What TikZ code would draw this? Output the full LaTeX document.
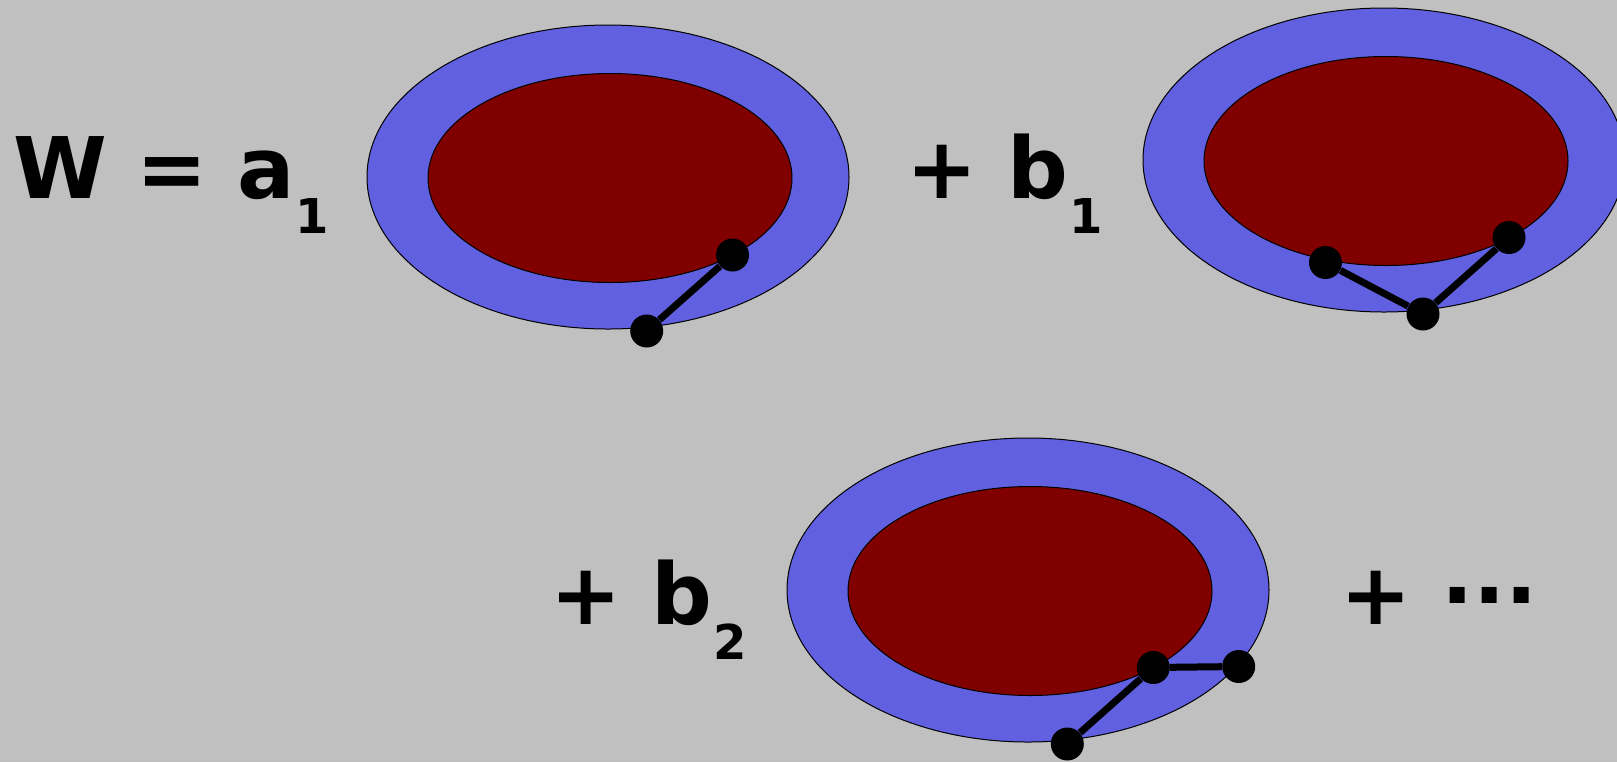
\documentclass[tikz,border=0pt]{standalone}
\usepackage{fontspec}
\setmainfont{DejaVu Sans}
\usepackage{xcolor}
\usepackage{tikz}
\usetikzlibrary{shapes.geometric}

\definecolor{ringblue}{RGB}{96,96,224}
\definecolor{corered}{RGB}{128,0,0}
\definecolor{bggray}{RGB}{192,192,192}
\newcommand{\termfont}{\fontsize{42.5}{42.5}\selectfont\bfseries}
\newcommand{\idxfont}{\fontsize{24}{24}\selectfont\bfseries}
\newcommand{\idx}[1]{\kern0.5pt\raisebox{-17.5pt}{\idxfont #1}}

\begin{document}
\begin{tikzpicture}[x=0.5pt, y=-0.5pt,
  ring/.style={ellipse, draw=black, line width=0.5pt, fill=ringblue,
    minimum width=241pt, minimum height=152pt, inner sep=0pt},
  core/.style={ellipse, draw=black, line width=0.5pt, fill=corered,
    minimum width=182pt, minimum height=104.5pt, inner sep=0pt},
  dot/.style={circle, fill=black, minimum size=16.5pt, inner sep=0pt},
  link/.style={line width=3.5pt, black},
  term/.style={anchor=base west, inner sep=0pt, font=\termfont},
]
\fill[bggray] (0,0) rectangle (1617,762);
\useasboundingbox (0,0) rectangle (1617,762);

% Rings
\node[ring] (r1) at (608,177) {};
\node[core] (c1) at (610,178) {};
\node[ring] (r2) at (1384,160) {};
\node[core] (c2) at (1386,161) {};
\node[ring] (r3) at (1028,590) {};
\node[core] (c3) at (1030,591) {};

% Dots
\node[dot] (p11) at (732.5,255) {};
\node[dot] (p12) at (646.7,331) {};
\node[dot] (p21) at (1325.5,262.5) {};
\node[dot] (p22) at (1423,314) {};
\node[dot] (p23) at (1509,237.5) {};
\node[dot] (p31) at (1153.3,667.5) {};
\node[dot] (p32) at (1238.7,666.5) {};
\node[dot] (p33) at (1067.3,744) {};

% Links
\draw[link] (p11) -- (p12);
\draw[link] (p21) -- (p22) -- (p23);
\draw[link] (p33) -- (p31) -- (p32);

% Terms
\node[term] (t1) at (13,198) {W = a\idx{1}};
\node[term] (t2) at (906,198) {+ b\idx{1}};
\node[term] (t3) at (550,624) {+ b\idx{2}};
\node[term] (t4) at (1340,624) {+ \raisebox{10.5pt}{...}};
\end{tikzpicture}
\end{document}
